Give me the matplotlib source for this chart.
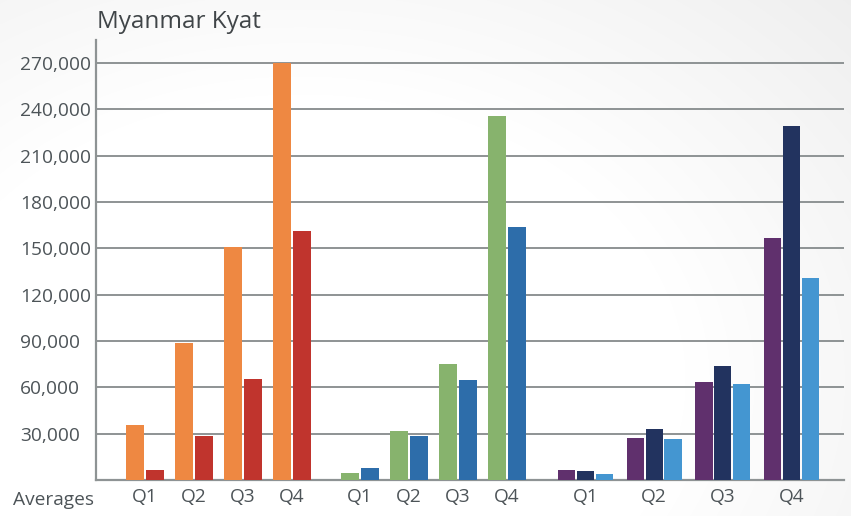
import numpy as np
import matplotlib
matplotlib.use("Agg")
import matplotlib.pyplot as plt
from matplotlib.colors import LinearSegmentedColormap

# data
quarters = ["Q1", "Q2", "Q3", "Q4"]
orange_vals = [35600, 89000, 151200, 270400]
red_vals = [6500, 28700, 65400, 161500]
green_vals = [4700, 32000, 75400, 236000]
blue_vals = [8000, 28700, 65000, 164100]
purple_vals = [6700, 27400, 63700, 157000]
navy_vals = [6000, 33200, 74100, 229600]
lightblue_vals = [4100, 26800, 62400, 131100]
y_ticks = [30000, 60000, 90000, 120000, 150000, 180000, 210000, 240000, 270000]

groups = [
    ([orange_vals, red_vals], ["#ee8842", "#c0342d"]),
    ([green_vals, blue_vals], ["#87b36d", "#2d6daa"]),
    ([purple_vals, navy_vals, lightblue_vals], ["#60306d", "#22335f", "#4496d1"]),
]

# layout (x in pixel-like units of the axes)
group_start = [126, 341, 558]
quarter_step = [49, 49, 68.7]
bar_w = [18, 18, 17.2]
bar_gap = [2, 1.5, 1.6]

W, H = 851, 516
fig = plt.figure(figsize=(W / 100, H / 100), dpi=100)
plt.rcParams['font.family'] = ['Open Sans', 'DejaVu Sans']

# soft vignette background, lighter on the left
bg = fig.add_axes([0, 0, 1, 1], zorder=-10)
yy, xx = np.mgrid[0:H, 0:W]
r = np.sqrt(((xx - 300) / 700.0) ** 2 + ((yy - 380) / 520.0) ** 2)
cmap = LinearSegmentedColormap.from_list("bg", ["#ffffff", "#ffffff", "#eeeeee"])
bg.imshow(np.clip(r, 0, 1.1), cmap=cmap, aspect='auto', vmin=0, vmax=1.1)
bg.axis('off')

ax = fig.add_axes([96 / W, 36 / H, (844 - 96) / W, (480 - 40) / H])
ax.patch.set_alpha(0)

tick_pos = []
for gi, (series, colors) in enumerate(groups):
    for qi in range(len(quarters)):
        left = group_start[gi] + qi * quarter_step[gi]
        n = len(series)
        for si in range(n):
            x = left + si * (bar_w[gi] + bar_gap[gi])
            ax.bar(x, series[si][qi], width=bar_w[gi], align='edge',
                   color=colors[si], zorder=3, linewidth=0)
        tick_pos.append(left + (n * bar_w[gi] + (n - 1) * bar_gap[gi]) / 2)

ax.set_xlim(96, 844)
ax.set_ylim(0, 285000)

for t in y_ticks:
    ax.axhline(t, color="#8e9394", lw=1.4, zorder=1)

ax.set_yticks(y_ticks)
ax.set_yticklabels([f"{t:,}" for t in y_ticks], color="#4d5458", fontsize=13.8)
for lab in ax.get_yticklabels():
    lab.set_horizontalalignment('left')
ax.tick_params(axis='y', length=0, pad=54.5)

ax.set_xticks(tick_pos)
ax.set_xticklabels(quarters * 3, color="#4d5458", fontsize=13.8)
ax.tick_params(axis='x', length=0, pad=5.5)

for s in ['top', 'right']:
    ax.spines[s].set_visible(False)
ax.spines['left'].set_color("#8e9394")
ax.spines['left'].set_linewidth(1.6)
ax.spines['bottom'].set_color("#8e9394")
ax.spines['bottom'].set_linewidth(1.6)

fig.text(97 / W, 1 - 22 / H, "Myanmar Kyat", fontsize=17.5, color="#404548",
         ha='left', va='center')
fig.text(13 / W, 1 - 500 / H, "Averages", fontsize=13.8, color="#4d5458",
         ha='left', va='center')

fig.savefig("out.png", dpi=100)
